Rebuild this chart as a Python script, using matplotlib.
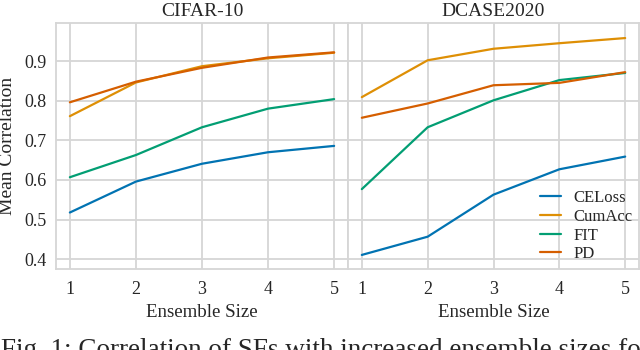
import matplotlib
matplotlib.use("Agg")
import matplotlib.pyplot as plt
import seaborn as sns

sizes = [1, 2, 3, 4, 5]
methods = ["CELoss", "CumAcc", "FIT", "PD"]

cifar_celoss = [0.518, 0.596, 0.641, 0.670, 0.686]
cifar_cumacc = [0.761, 0.846, 0.887, 0.907, 0.921]
cifar_fit = [0.607, 0.663, 0.733, 0.780, 0.804]
cifar_pd = [0.796, 0.848, 0.883, 0.909, 0.922]

dcase_celoss = [0.411, 0.457, 0.563, 0.627, 0.659]
dcase_cumacc = [0.809, 0.902, 0.931, 0.945, 0.958]
dcase_fit = [0.577, 0.733, 0.801, 0.852, 0.870]
dcase_pd = [0.757, 0.793, 0.839, 0.845, 0.872]

sns.set_theme(style="whitegrid", palette="colorblind")
plt.rcParams["font.family"] = ["Liberation Serif", "DejaVu Serif"]
plt.rcParams["axes.edgecolor"] = "#d6d6d6"
plt.rcParams["grid.color"] = "#d6d6d6"
plt.rcParams["grid.linewidth"] = 1.3
plt.rcParams["axes.linewidth"] = 1.3

colors = sns.color_palette("colorblind")

fig = plt.figure(figsize=(6.4, 3.5), dpi=100)
ax1 = fig.add_axes([56 / 640, 1 - 269 / 350, 292 / 640, 246 / 350])
ax2 = fig.add_axes([348 / 640, 1 - 269 / 350, 291 / 640, 246 / 350], sharey=ax1)

panels = [
    (ax1, "CIFAR-10", [cifar_celoss, cifar_cumacc, cifar_fit, cifar_pd]),
    (ax2, "DCASE2020", [dcase_celoss, dcase_cumacc, dcase_fit, dcase_pd]),
]

for ax, title, series in panels:
    for name, vals, c in zip(methods, series, colors):
        ax.plot(sizes, vals, color=c, linewidth=1.6, label=name)
    ax.set_title(title, fontsize=14, pad=5)
    ax.set_xlabel("Ensemble Size", fontsize=13.6, labelpad=4)
    ax.set_xticks(sizes)
    ax.set_xlim(0.79, 5.21)
    ax.tick_params(axis="x", labelsize=13, pad=3)
    ax.tick_params(axis="y", labelsize=13, pad=0.5)

ax1.set_ylim(0.3755, 0.996)
ax1.set_yticks([0.4, 0.5, 0.6, 0.7, 0.8, 0.9])
ax1.set_ylabel("Mean Correlation", fontsize=14)
ax1.yaxis.set_label_coords(-0.136, 0.5)
ax2.tick_params(labelleft=False)

ax2.legend(loc="lower right", frameon=False, fontsize=12,
           handlelength=1.26, handletextpad=0.72, labelspacing=0.16,
           borderaxespad=0.0, bbox_to_anchor=(1.0, 0.0))

fig.text(0.002, 1 - 338 / 350, "Fig. 1: Correlation of SFs with increased ensemble sizes for",
         fontsize=19.5, va="top", ha="left")

fig.savefig("out.png", dpi=100)
